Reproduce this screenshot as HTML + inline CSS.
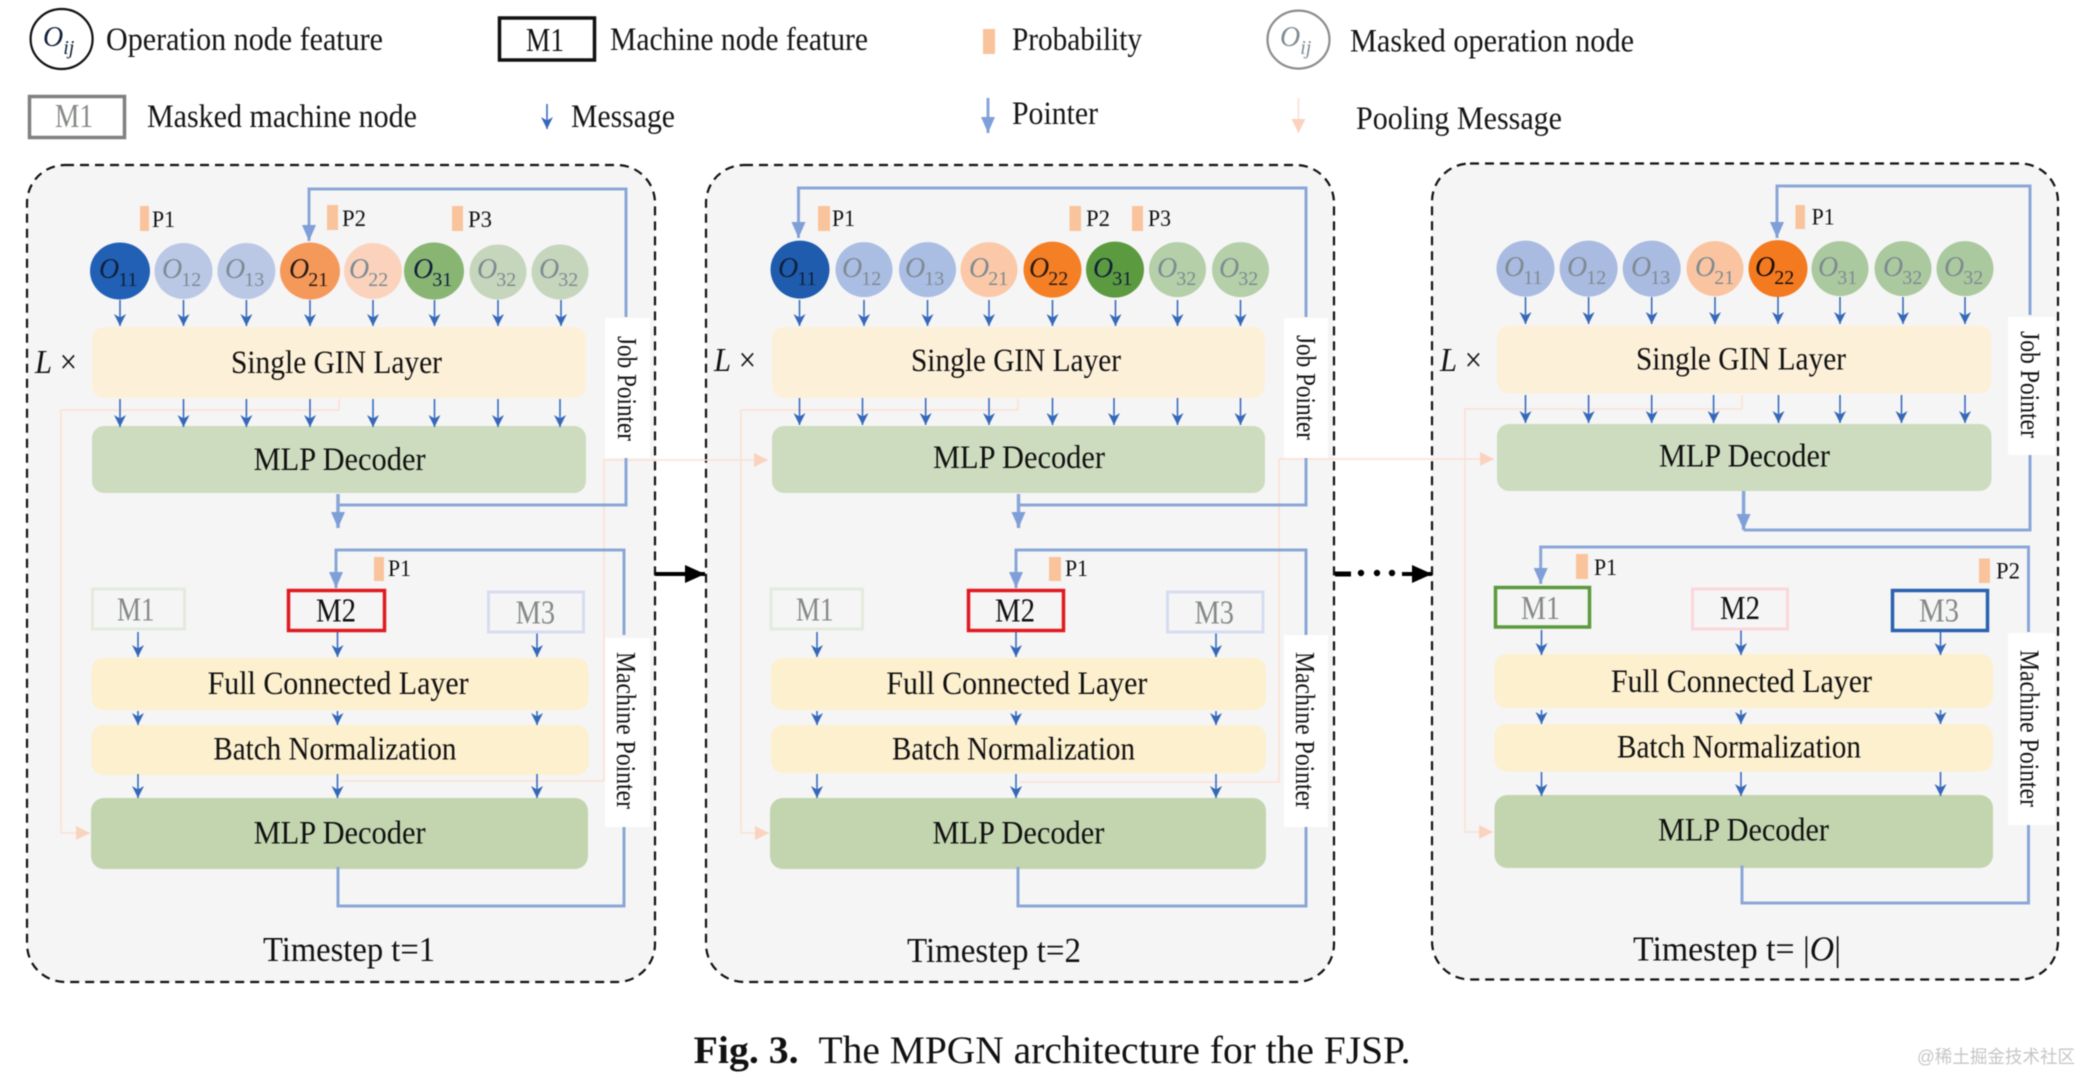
<!DOCTYPE html>
<html><head><meta charset="utf-8"><style>
html,body{margin:0;padding:0;background:#fff}
svg{display:block;filter:blur(.6px)}
text{font-family:"Liberation Serif","Noto Serif CJK SC",serif;fill:#111}
.pn{fill:#f5f5f6;stroke:#111;stroke-width:2.2;stroke-dasharray:9 6}
.lg{font-size:33px;fill:#151515}
.ly{font-size:33px}
.m{font-size:34px}
.g{fill:#858a85}
.p{font-size:23px}
.pr{fill:#f9c39c}
.o{font-size:28px;font-style:italic;fill:#10203a}
.s{font-size:20px;font-style:normal}
.mk{fill:#7e8a92}
.a path{fill:none;stroke:#3a6cbf;stroke-width:1.6;marker-end:url(#ma)}
.q{fill:none;stroke:#8aa6d8;stroke-width:3}
.qa{marker-end:url(#mq)}
.w{fill:none;stroke:#fce0d2;stroke-width:1.6}
.wa{marker-end:url(#mw)}
.wb{fill:#fff}
.r{font-size:27px}
.t{font-size:35px}
.c{font-size:39px}
</style></head><body>
<svg width="2083" height="1073" viewBox="0 0 2083 1073" xmlns="http://www.w3.org/2000/svg">
<defs>
<marker id="ma" markerUnits="userSpaceOnUse" markerWidth="14" markerHeight="14" refX="12" refY="6.5" orient="auto"><path d="M0,0.5 L12,6.5 L0,12.5 L3.5,6.5z" fill="#3568b8"/></marker>
<marker id="mq" markerUnits="userSpaceOnUse" markerWidth="18" markerHeight="16" refX="16" refY="8" orient="auto"><path d="M0,1 L16,8 L0,15z" fill="#7f9fd9"/></marker>
<marker id="mw" markerUnits="userSpaceOnUse" markerWidth="16" markerHeight="16" refX="14" refY="8" orient="auto"><path d="M0,1 L14,8 L0,15z" fill="#fbd2bd"/></marker>
<marker id="mk" markerUnits="userSpaceOnUse" markerWidth="22" markerHeight="20" refX="20" refY="10" orient="auto"><path d="M0,1 L20,10 L0,19z" fill="#000"/></marker>
</defs>

<!-- LEGEND -->
<ellipse cx="61.6" cy="39" rx="31" ry="30" fill="#fff" stroke="#111" stroke-width="2.2"/>
<text x="43" y="46" class="o">O<tspan class="s" dx="0" dy="8" style="font-style:italic">ij</tspan></text>
<text x="106" y="50" class="lg" textLength="277" lengthAdjust="spacingAndGlyphs">Operation node feature</text>
<rect x="499.5" y="18" width="95" height="42" fill="#fff" stroke="#111" stroke-width="3.5"/>
<text x="526" y="51" class="m" textLength="38" lengthAdjust="spacingAndGlyphs">M1</text>
<text x="610" y="50" class="lg" textLength="258" lengthAdjust="spacingAndGlyphs">Machine node feature</text>
<rect x="983" y="29" width="12" height="25" class="pr"/>
<text x="1012" y="50" class="lg" textLength="130" lengthAdjust="spacingAndGlyphs">Probability</text>
<ellipse cx="1298.5" cy="39.6" rx="31" ry="29" fill="#fff" stroke="#8c8c8c" stroke-width="2.2"/>
<text x="1280" y="46" class="o mk">O<tspan class="s" dx="0" dy="8" style="font-style:italic">ij</tspan></text>
<text x="1350" y="51.5" class="lg" textLength="284" lengthAdjust="spacingAndGlyphs">Masked operation node</text>
<rect x="29.5" y="96.5" width="95" height="41" fill="#fff" stroke="#808080" stroke-width="3.5"/>
<text x="55" y="127" class="m g" textLength="38" lengthAdjust="spacingAndGlyphs">M1</text>
<text x="147" y="127" class="lg" textLength="270" lengthAdjust="spacingAndGlyphs">Masked machine node</text>
<g class="a"><path d="M547 104V129"/></g>
<text x="571" y="127" class="lg" textLength="104" lengthAdjust="spacingAndGlyphs">Message</text>
<path d="M988 98V133" class="q qa"/>
<text x="1012" y="124" class="lg" textLength="86" lengthAdjust="spacingAndGlyphs">Pointer</text>
<path d="M1298.5 98V133" class="w wa"/>
<text x="1356" y="129" class="lg" textLength="206" lengthAdjust="spacingAndGlyphs">Pooling Message</text>

<!-- PANELS -->
<rect x="27" y="165" width="628" height="817" rx="38" class="pn"/>
<rect x="706" y="165" width="628" height="817" rx="38" class="pn"/>
<rect x="1432" y="163.5" width="626" height="816" rx="38" class="pn"/>

<!-- white label boxes -->
<rect x="605" y="318" width="45" height="140" class="wb"/>
<rect x="605" y="638" width="45" height="189" class="wb"/>
<rect x="1284" y="318" width="44" height="140" class="wb"/>
<rect x="1284" y="635" width="44" height="192" class="wb"/>
<rect x="2008" y="317" width="47" height="138" class="wb"/>
<rect x="2008" y="633" width="47" height="192" class="wb"/>

<!-- pooling lines -->
<path d="M339 399V410H61V833H90" class="w wa"/>
<path d="M341 781H604V460H768" class="w wa"/>
<path d="M1018 399V410H741V833H769" class="w wa"/>
<path d="M1019 782H1279V459H1494" class="w wa"/>
<path d="M1742 395V409H1465V832H1493" class="w wa"/>

<!-- PANEL 1 layers -->
<rect x="92" y="327" width="494" height="71" rx="12" fill="#fdf0d9"/>
<rect x="92" y="426" width="494" height="67" rx="12" fill="#cddcbf"/>
<rect x="91.5" y="658" width="497" height="52" rx="12" fill="#fdf0cf"/>
<rect x="91.5" y="725" width="497" height="50" rx="12" fill="#fdf0cf"/>
<rect x="91" y="798" width="497" height="71" rx="13" fill="#c2d5ae"/>
<!-- PANEL 2 layers -->
<rect x="772" y="327" width="493" height="71" rx="12" fill="#fdf0d9"/>
<rect x="772" y="426" width="493" height="67" rx="12" fill="#cddcbf"/>
<rect x="771" y="658" width="495" height="52" rx="12" fill="#fdf0cf"/>
<rect x="771" y="725" width="495" height="48" rx="12" fill="#fdf0cf"/>
<rect x="770" y="798" width="496" height="71" rx="13" fill="#c2d5ae"/>
<!-- PANEL 3 layers -->
<rect x="1497" y="325.5" width="494.5" height="68" rx="12" fill="#fdf0d9"/>
<rect x="1497" y="424" width="494.5" height="67" rx="12" fill="#cddcbf"/>
<rect x="1494.5" y="654" width="498.5" height="54" rx="12" fill="#fdf0cf"/>
<rect x="1494.5" y="724" width="498.5" height="47.5" rx="12" fill="#fdf0cf"/>
<rect x="1494.5" y="795" width="498.5" height="73" rx="13" fill="#c2d5ae"/>

<!-- layer labels -->
<text x="231" y="373" class="ly" textLength="211" lengthAdjust="spacingAndGlyphs">Single GIN Layer</text>
<text x="253.6" y="470" class="ly" textLength="172" lengthAdjust="spacingAndGlyphs">MLP Decoder</text>
<text x="207.6" y="694" class="ly" textLength="261" lengthAdjust="spacingAndGlyphs">Full Connected Layer</text>
<text x="213.4" y="759.5" class="ly" textLength="243" lengthAdjust="spacingAndGlyphs">Batch Normalization</text>
<text x="253.6" y="843.5" class="ly" textLength="172" lengthAdjust="spacingAndGlyphs">MLP Decoder</text>
<text x="911" y="371" class="ly" textLength="210" lengthAdjust="spacingAndGlyphs">Single GIN Layer</text>
<text x="933" y="468" class="ly" textLength="172" lengthAdjust="spacingAndGlyphs">MLP Decoder</text>
<text x="886.4" y="694" class="ly" textLength="261" lengthAdjust="spacingAndGlyphs">Full Connected Layer</text>
<text x="892" y="759.5" class="ly" textLength="243" lengthAdjust="spacingAndGlyphs">Batch Normalization</text>
<text x="932.4" y="843.5" class="ly" textLength="172" lengthAdjust="spacingAndGlyphs">MLP Decoder</text>
<text x="1636" y="369.5" class="ly" textLength="210" lengthAdjust="spacingAndGlyphs">Single GIN Layer</text>
<text x="1659" y="466.6" class="ly" textLength="171" lengthAdjust="spacingAndGlyphs">MLP Decoder</text>
<text x="1611" y="692" class="ly" textLength="261" lengthAdjust="spacingAndGlyphs">Full Connected Layer</text>
<text x="1617" y="757.7" class="ly" textLength="244" lengthAdjust="spacingAndGlyphs">Batch Normalization</text>
<text x="1658" y="840.6" class="ly" textLength="171" lengthAdjust="spacingAndGlyphs">MLP Decoder</text>

<!-- L x -->
<text x="35" y="373" style="font-size:34px" textLength="42" lengthAdjust="spacingAndGlyphs"><tspan font-style="italic">L</tspan> ×</text>
<text x="714" y="371" style="font-size:34px" textLength="42" lengthAdjust="spacingAndGlyphs"><tspan font-style="italic">L</tspan> ×</text>
<text x="1440" y="371" style="font-size:34px" textLength="42" lengthAdjust="spacingAndGlyphs"><tspan font-style="italic">L</tspan> ×</text>

<!-- CIRCLES P1 -->
<g>
<ellipse cx="120" cy="271" rx="30" ry="28.5" fill="#2160b5"/>
<ellipse cx="183.5" cy="271" rx="29" ry="28" fill="#bac8e6"/>
<ellipse cx="246.4" cy="271" rx="29" ry="28" fill="#bac8e6"/>
<ellipse cx="310" cy="271" rx="30" ry="28.5" fill="#f5995a"/>
<ellipse cx="373" cy="271" rx="29" ry="28" fill="#fbd3bd"/>
<ellipse cx="434" cy="271" rx="30" ry="28.5" fill="#89b573"/>
<ellipse cx="498" cy="272" rx="28.5" ry="27.5" fill="#c6d6bc"/>
<ellipse cx="560" cy="272" rx="28.5" ry="27.5" fill="#c6d6bc"/>
</g>
<text x="99" y="278" class="o">O<tspan class="s" dx="-1" dy="8">11</tspan></text>
<text x="162" y="278" class="o mk">O<tspan class="s" dx="-1" dy="8">12</tspan></text>
<text x="225" y="278" class="o mk">O<tspan class="s" dx="-1" dy="8">13</tspan></text>
<text x="289" y="278" class="o" style="fill:#2a1a10">O<tspan class="s" dx="-1" dy="8">21</tspan></text>
<text x="349" y="278" class="o mk">O<tspan class="s" dx="-1" dy="8">22</tspan></text>
<text x="413" y="278" class="o">O<tspan class="s" dx="-1" dy="8">31</tspan></text>
<text x="477" y="278" class="o mk">O<tspan class="s" dx="-1" dy="8">32</tspan></text>
<text x="539" y="278" class="o mk">O<tspan class="s" dx="-1" dy="8">32</tspan></text>

<!-- CIRCLES P2 -->
<g>
<ellipse cx="800" cy="269.6" rx="29.5" ry="29" fill="#1f5cae"/>
<ellipse cx="864" cy="269.6" rx="28.5" ry="27.5" fill="#aabde3"/>
<ellipse cx="927.5" cy="269.6" rx="28.5" ry="27.5" fill="#aabde3"/>
<ellipse cx="989" cy="269.6" rx="28.5" ry="27.5" fill="#fbc9a8"/>
<ellipse cx="1052.5" cy="269.6" rx="29" ry="28" fill="#f57f25"/>
<ellipse cx="1115" cy="269.6" rx="29" ry="28" fill="#5c9a3f"/>
<ellipse cx="1177.5" cy="269.6" rx="28.5" ry="27.5" fill="#b5cfa8"/>
<ellipse cx="1240.5" cy="269.6" rx="28.5" ry="27.5" fill="#b5cfa8"/>
</g>
<text x="778" y="277" class="o">O<tspan class="s" dx="-1" dy="8">11</tspan></text>
<text x="842" y="277" class="o mk">O<tspan class="s" dx="-1" dy="8">12</tspan></text>
<text x="905" y="277" class="o mk">O<tspan class="s" dx="-1" dy="8">13</tspan></text>
<text x="969" y="277" class="o mk">O<tspan class="s" dx="-1" dy="8">21</tspan></text>
<text x="1029" y="277" class="o" style="fill:#2a1a10">O<tspan class="s" dx="-1" dy="8">22</tspan></text>
<text x="1093" y="277" class="o">O<tspan class="s" dx="-1" dy="8">31</tspan></text>
<text x="1157" y="277" class="o mk">O<tspan class="s" dx="-1" dy="8">32</tspan></text>
<text x="1219" y="277" class="o mk">O<tspan class="s" dx="-1" dy="8">32</tspan></text>

<!-- CIRCLES P3 -->
<g>
<ellipse cx="1525.5" cy="268.6" rx="29" ry="28" fill="#a9bbe0"/>
<ellipse cx="1588.6" cy="268.6" rx="29" ry="28" fill="#a9bbe0"/>
<ellipse cx="1651.7" cy="268.6" rx="29" ry="28" fill="#a9bbe0"/>
<ellipse cx="1715" cy="268.6" rx="28.5" ry="27.5" fill="#fbc4a0"/>
<ellipse cx="1778" cy="268.6" rx="29.5" ry="28.5" fill="#f47a20"/>
<ellipse cx="1840" cy="268.6" rx="28.5" ry="27.5" fill="#abc99e"/>
<ellipse cx="1903" cy="268.6" rx="28.5" ry="27.5" fill="#abc99e"/>
<ellipse cx="1965" cy="268.6" rx="28.5" ry="27.5" fill="#abc99e"/>
</g>
<text x="1504" y="276" class="o mk">O<tspan class="s" dx="-1" dy="8">11</tspan></text>
<text x="1567" y="276" class="o mk">O<tspan class="s" dx="-1" dy="8">12</tspan></text>
<text x="1631" y="276" class="o mk">O<tspan class="s" dx="-1" dy="8">13</tspan></text>
<text x="1695" y="276" class="o mk">O<tspan class="s" dx="-1" dy="8">21</tspan></text>
<text x="1755" y="276" class="o" style="fill:#1a0f08">O<tspan class="s" dx="-1" dy="8">22</tspan></text>
<text x="1818" y="276" class="o mk">O<tspan class="s" dx="-1" dy="8">31</tspan></text>
<text x="1883" y="276" class="o mk">O<tspan class="s" dx="-1" dy="8">32</tspan></text>
<text x="1944" y="276" class="o mk">O<tspan class="s" dx="-1" dy="8">32</tspan></text>

<!-- small arrows -->
<g class="a">
<path d="M120 300V326"/><path d="M183.5 300V326"/><path d="M246.4 300V326"/><path d="M310 300V326"/><path d="M373 300V326"/><path d="M434.5 300V326"/><path d="M498 300V326"/><path d="M561 300V326"/>
<path d="M120 399V427"/><path d="M183.5 399V427"/><path d="M246.4 399V427"/><path d="M310 399V427"/><path d="M373 399V427"/><path d="M434.5 399V427"/><path d="M498 399V427"/><path d="M560 399V427"/>
<path d="M138 632V657"/><path d="M337.5 632V657"/><path d="M537 632V657"/>
<path d="M138 711V725"/><path d="M337.5 711V725"/><path d="M537 711V725"/>
<path d="M138 774V798"/><path d="M337.5 774V798"/><path d="M537 774V798"/>

<path d="M799.5 300V326"/><path d="M864 300V326"/><path d="M927.5 300V326"/><path d="M989 300V326"/><path d="M1052.5 300V326"/><path d="M1115.5 300V326"/><path d="M1177.5 300V326"/><path d="M1240.5 300V326"/>
<path d="M799.5 398V425"/><path d="M862.5 398V425"/><path d="M925.7 398V425"/><path d="M989 398V425"/><path d="M1052.5 398V425"/><path d="M1114 398V425"/><path d="M1177.5 398V425"/><path d="M1240.5 398V425"/>
<path d="M817 632V657"/><path d="M1016 632V657"/><path d="M1216 632V657"/>
<path d="M817 711V725"/><path d="M1016 711V725"/><path d="M1216 711V725"/>
<path d="M817 774V798"/><path d="M1016 774V798"/><path d="M1216 774V798"/>

<path d="M1525.5 297V324"/><path d="M1588.6 297V324"/><path d="M1651.7 297V324"/><path d="M1715 297V324"/><path d="M1778 297V324"/><path d="M1840 297V324"/><path d="M1903 297V324"/><path d="M1965 297V324"/>
<path d="M1525.5 395V423"/><path d="M1588.6 395V423"/><path d="M1651.7 395V423"/><path d="M1713.6 395V423"/><path d="M1778.5 395V423"/><path d="M1840 395V423"/><path d="M1901.5 395V423"/><path d="M1965 395V423"/>
<path d="M1541.5 630V655"/><path d="M1741 630V655"/><path d="M1940.5 630V655"/>
<path d="M1541.5 710V724"/><path d="M1741 710V724"/><path d="M1940.5 710V724"/>
<path d="M1541.5 772V796"/><path d="M1741 772V796"/><path d="M1940.5 772V796"/>
</g>

<!-- pointers -->
<path d="M626 317V189H309V241" class="q qa"/>
<path d="M626 458V505H338" class="q"/>
<path d="M338 494V528" class="q qa" style="stroke-width:3.5"/>
<path d="M624 635V550H336V588" class="q qa"/>
<path d="M624 827V906H338V867" class="q"/>

<path d="M1306 317V188H798.5V238" class="q qa"/>
<path d="M1306 458V505H1018.5" class="q"/>
<path d="M1018.5 494V528" class="q qa" style="stroke-width:3.5"/>
<path d="M1306 635V550H1016V588" class="q qa"/>
<path d="M1306 827V906H1018V867" class="q"/>

<path d="M2030 315V186H1777V238" class="q qa"/>
<path d="M2030 455V530H1743.6" class="q"/>
<path d="M1743.6 491V530" class="q qa" style="stroke-width:3.5"/>
<path d="M2028.5 632V547H1540.7V584" class="q qa"/>
<path d="M2028.5 825V903H1742V865.5" class="q"/>

<!-- Machine boxes -->
<rect x="92.5" y="589" width="92" height="40" fill="none" stroke="#e4ebdd" stroke-width="3"/>
<rect x="288.5" y="590.5" width="96" height="40" fill="#f5f5f6" stroke="#e01a1f" stroke-width="3.5"/>
<rect x="488.5" y="592" width="95" height="40" fill="none" stroke="#d7ddf0" stroke-width="3"/>
<rect x="771" y="589" width="91.5" height="40" fill="none" stroke="#e4ebdd" stroke-width="3"/>
<rect x="968.5" y="590.5" width="95" height="40" fill="#f5f5f6" stroke="#e01a1f" stroke-width="3.5"/>
<rect x="1167.5" y="592" width="95.5" height="40" fill="none" stroke="#d7ddf0" stroke-width="3"/>
<rect x="1495.5" y="587.5" width="94" height="39.5" fill="none" stroke="#5a9a3c" stroke-width="3.5"/>
<rect x="1692.5" y="589" width="95" height="40" fill="none" stroke="#fad7da" stroke-width="3"/>
<rect x="1892.5" y="590.5" width="95" height="40" fill="none" stroke="#2a62b0" stroke-width="3.5"/>

<text x="117" y="620.6" class="m g" textLength="37.5" lengthAdjust="spacingAndGlyphs">M1</text>
<text x="316" y="621.7" class="m" textLength="40" lengthAdjust="spacingAndGlyphs">M2</text>
<text x="515.6" y="623.5" class="m g" textLength="39.5" lengthAdjust="spacingAndGlyphs">M3</text>
<text x="796" y="620.6" class="m g" textLength="37.5" lengthAdjust="spacingAndGlyphs">M1</text>
<text x="995" y="621.7" class="m" textLength="40" lengthAdjust="spacingAndGlyphs">M2</text>
<text x="1194.5" y="623.5" class="m g" textLength="39.5" lengthAdjust="spacingAndGlyphs">M3</text>
<text x="1521" y="618.8" class="m g" textLength="39" lengthAdjust="spacingAndGlyphs">M1</text>
<text x="1720" y="618.8" class="m" textLength="40" lengthAdjust="spacingAndGlyphs">M2</text>
<text x="1919" y="621.7" class="m g" textLength="40" lengthAdjust="spacingAndGlyphs">M3</text>

<!-- Probability markers -->
<rect x="140" y="206" width="9" height="25" class="pr"/><text x="152" y="227" class="p" textLength="23" lengthAdjust="spacingAndGlyphs">P1</text>
<rect x="327" y="205" width="11" height="25" class="pr"/><text x="342" y="226" class="p" textLength="24" lengthAdjust="spacingAndGlyphs">P2</text>
<rect x="452" y="206" width="11" height="25" class="pr"/><text x="468" y="227" class="p" textLength="24" lengthAdjust="spacingAndGlyphs">P3</text>
<rect x="374" y="557" width="10" height="24" class="pr"/><text x="388" y="576" class="p" textLength="23" lengthAdjust="spacingAndGlyphs">P1</text>

<rect x="818" y="206" width="12" height="25" class="pr"/><text x="832" y="226" class="p" textLength="23" lengthAdjust="spacingAndGlyphs">P1</text>
<rect x="1069.5" y="206" width="11.5" height="25" class="pr"/><text x="1086" y="226" class="p" textLength="24" lengthAdjust="spacingAndGlyphs">P2</text>
<rect x="1132" y="206" width="11" height="25" class="pr"/><text x="1148" y="226" class="p" textLength="23" lengthAdjust="spacingAndGlyphs">P3</text>
<rect x="1049" y="557" width="12" height="24" class="pr"/><text x="1065" y="576" class="p" textLength="23" lengthAdjust="spacingAndGlyphs">P1</text>

<rect x="1795.5" y="205" width="9.5" height="24" class="pr"/><text x="1811.6" y="224.5" class="p" textLength="23" lengthAdjust="spacingAndGlyphs">P1</text>
<rect x="1576" y="554" width="12" height="25" class="pr"/><text x="1594" y="575" class="p" textLength="23" lengthAdjust="spacingAndGlyphs">P1</text>
<rect x="1979" y="558.5" width="11" height="24.5" class="pr"/><text x="1996" y="578.6" class="p" textLength="24" lengthAdjust="spacingAndGlyphs">P2</text>

<!-- rotated labels -->
<text transform="translate(618,336) rotate(90)" class="r" textLength="105" lengthAdjust="spacingAndGlyphs">Job Pointer</text>
<text transform="translate(617,652) rotate(90)" class="r" textLength="157" lengthAdjust="spacingAndGlyphs">Machine Pointer</text>
<text transform="translate(1297,335) rotate(90)" class="r" textLength="105" lengthAdjust="spacingAndGlyphs">Job Pointer</text>
<text transform="translate(1296,652) rotate(90)" class="r" textLength="157" lengthAdjust="spacingAndGlyphs">Machine Pointer</text>
<text transform="translate(2021,331) rotate(90)" class="r" textLength="107" lengthAdjust="spacingAndGlyphs">Job Pointer</text>
<text transform="translate(2020.5,650) rotate(90)" class="r" textLength="157" lengthAdjust="spacingAndGlyphs">Machine Pointer</text>

<!-- timestep labels -->
<text x="263" y="961" class="t" textLength="172" lengthAdjust="spacingAndGlyphs">Timestep t=1</text>
<text x="907" y="962" class="t" textLength="174" lengthAdjust="spacingAndGlyphs">Timestep t=2</text>
<text x="1633" y="960.5" class="t" textLength="208" lengthAdjust="spacingAndGlyphs">Timestep t= |<tspan font-style="italic">O</tspan>|</text>

<!-- black connectors -->
<path d="M655 574H705" fill="none" stroke="#000" stroke-width="4" marker-end="url(#mk)"/>
<path d="M1335 574H1351" fill="none" stroke="#000" stroke-width="5"/>
<circle cx="1361" cy="573" r="3.2" fill="#000"/><circle cx="1377" cy="573" r="3.2" fill="#000"/><circle cx="1392" cy="573" r="3.2" fill="#000"/>
<path d="M1402 574H1432" fill="none" stroke="#000" stroke-width="4" marker-end="url(#mk)"/>

<!-- caption -->
<text x="693.6" y="1063" class="c" style="font-weight:bold" textLength="105" lengthAdjust="spacingAndGlyphs">Fig. 3.</text>
<text x="818.5" y="1063" class="c" textLength="592" lengthAdjust="spacingAndGlyphs">The MPGN architecture for the FJSP.</text>
<text x="1917" y="1063" style="font-family:'Liberation Sans','Noto Sans CJK SC',sans-serif;font-size:18px;fill:#c6c6c6" textLength="158" lengthAdjust="spacingAndGlyphs">@稀土掘金技术社区</text>
</svg>
</body></html>
